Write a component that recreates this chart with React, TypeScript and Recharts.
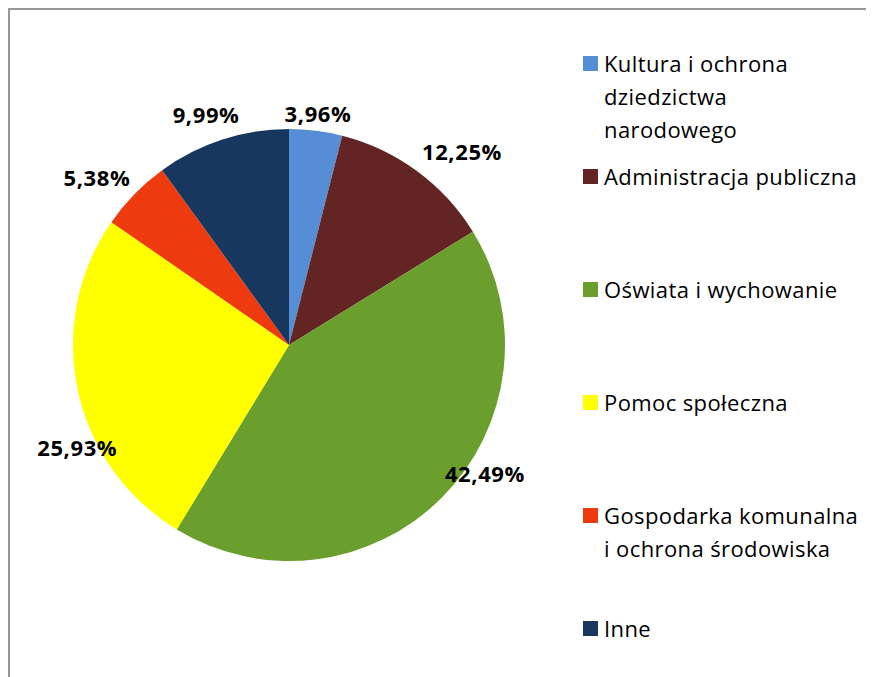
import React from 'react';
import { PieChart, Pie, Cell, Legend } from 'recharts';

// Udział wydatków wg działów (%)
const CATEGORIES = [
  'Kultura i ochrona dziedzictwa narodowego',
  'Administracja publiczna',
  'Oświata i wychowanie',
  'Pomoc społeczna',
  'Gospodarka komunalna i ochrona środowiska',
  'Inne',
];
// legend text broken the same way as in the original
const LEGEND_LINES = [
  ['Kultura i ochrona', 'dziedzictwa', 'narodowego'],
  ['Administracja publiczna'],
  ['Oświata i wychowanie'],
  ['Pomoc społeczna'],
  ['Gospodarka komunalna', 'i ochrona środowiska'],
  ['Inne'],
];
const SHARES = [3.96, 12.25, 42.49, 25.93, 5.38, 9.99];
const COLORS = ['#558ED5', '#632523', '#6A9F2D', '#FFFF00', '#EE3A0F', '#17375E'];

// label placement tweaks (Excel moved some labels around)
const LABEL_ANGLE_SHIFT = [0, -5.4, 11.7, 13.7, 3.2, 1.8];
const LABEL_RADIUS = [234, 260, 234, 235, 255, 245];

const RADIAN = Math.PI / 180;
const FONT = '"Open Sans", "Noto Sans", sans-serif';

const chartData = CATEGORIES.map((name, i) => ({ name, value: SHARES[i] }));

const fmt = (v: number) => v.toFixed(2).replace('.', ',') + '%';

function renderLabel(props: any) {
  const { cx, cy, midAngle, index, value } = props;
  const angle = midAngle + LABEL_ANGLE_SHIFT[index];
  const r = LABEL_RADIUS[index];
  const x = cx + r * Math.cos(-angle * RADIAN);
  const y = cy + r * Math.sin(-angle * RADIAN);
  return (
    <text
      x={x}
      y={y}
      textAnchor="middle"
      dominantBaseline="central"
      fill="#000"
      fontFamily={FONT}
      fontWeight={700}
      fontSize={22}
      letterSpacing={0.6}
    >
      {fmt(value)}
    </text>
  );
}

// legend keeps the original series order
function LegendContent() {
  return (
    <div style={{ fontFamily: FONT, fontSize: 22, letterSpacing: 0.4, color: '#000' }}>
      {CATEGORIES.map((name, i) => (
        <div key={name} style={{ display: 'flex', alignItems: 'flex-start', height: 113 }}>
          <div
            style={{
              width: 15,
              height: 15,
              background: COLORS[i],
              marginTop: 9,
              marginRight: 6,
              flexShrink: 0,
            }}
          />
          <div style={{ lineHeight: '33px', whiteSpace: 'nowrap' }}>
            {LEGEND_LINES[i].map((line) => (
              <div key={line}>{line}</div>
            ))}
          </div>
        </div>
      ))}
    </div>
  );
}

export default function App() {
  return (
    <div
      style={{
        width: 864,
        height: 667,
        borderTop: '2px solid #979797',
        borderLeft: '2px solid #979797',
        background: '#fff',
      }}
    >
      <PieChart width={864} height={667} margin={{ top: 0, right: 0, bottom: 0, left: 0 }}>
        <Pie
          data={chartData}
          dataKey="value"
          nameKey="name"
          cx={279}
          cy={335}
          outerRadius={216}
          startAngle={90}
          endAngle={-270}
          stroke="none"
          label={renderLabel}
          labelLine={false}
          isAnimationActive={false}
        >
          {chartData.map((d, i) => (
            <Cell key={d.name} fill={COLORS[i]} />
          ))}
        </Pie>
        <Legend
          layout="vertical"
          align="right"
          verticalAlign="top"
          content={<LegendContent />}
          wrapperStyle={{ left: 573, top: 37, width: 291 }}
        />
      </PieChart>
    </div>
  );
}
